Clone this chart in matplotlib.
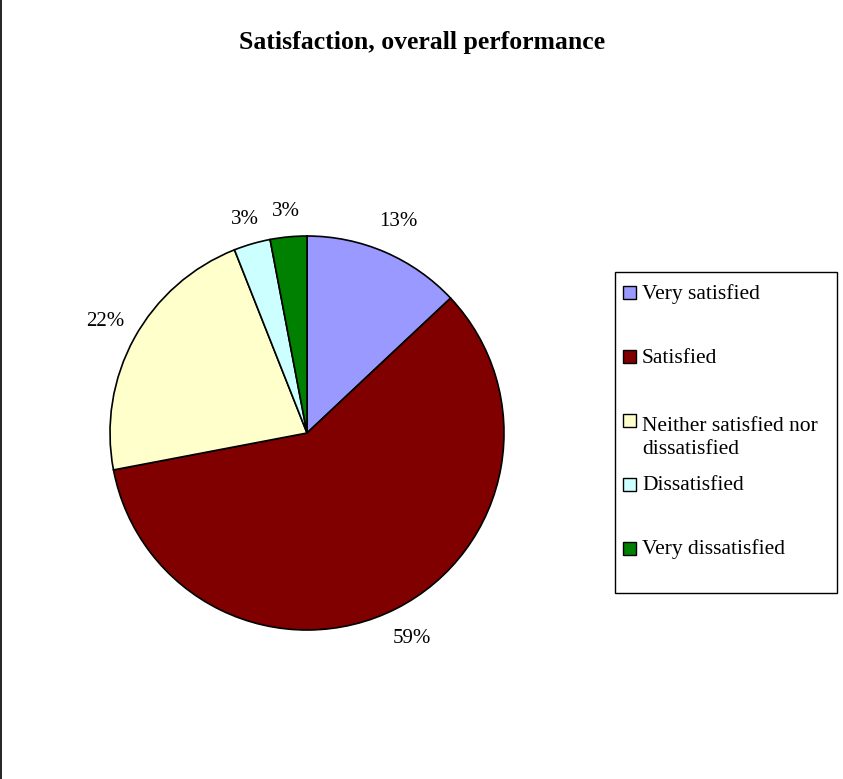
import matplotlib.pyplot as plt
from matplotlib.patches import Rectangle
from matplotlib.lines import Line2D

plt.rcParams['font.family'] = ['Liberation Serif', 'DejaVu Serif']

categories = ['Very satisfied', 'Satisfied', 'Neither satisfied nor\ndissatisfied',
              'Dissatisfied', 'Very dissatisfied']
shares = [13, 59, 22, 3, 3]
colors = ['#9999FF', '#800000', '#FFFFCC', '#CCFFFF', '#008000']

W, H = 843, 779
fig = plt.figure(figsize=(W / 100, H / 100), dpi=100)


def fx(px):
    return px / W


def fy(py):
    return 1 - py / H


# pie axes: centre (307, 433) px, radius 197 px
cx, cy, r = 307, 433, 197
ax = fig.add_axes([fx(cx - r), fy(cy + r), 2 * r / W, 2 * r / H])
wedges, texts = ax.pie(shares, colors=colors, startangle=90, counterclock=False,
                       labels=['%d%%' % v for v in shares], labeldistance=1.17,
                       wedgeprops=dict(edgecolor='black', linewidth=1.2),
                       textprops=dict(fontsize=15, ha='center', va='center'))
# pull the two thin-slice labels a little closer to the rim
for t in texts[3:]:
    x, y = t.get_position()
    t.set_position((x * 1.13 / 1.17, y * 1.13 / 1.17))
ax.set_xlim(-1, 1)
ax.set_ylim(-1, 1)
ax.axis('off')

fig.text(fx(422), fy(42), 'Satisfaction, overall performance',
         ha='center', va='center', fontsize=18.5, fontweight='bold')

# legend box drawn by hand so multi-line entries keep the key on the first line
fig.add_artist(Rectangle((fx(615), fy(593)), 222 / W, 321 / H, transform=fig.transFigure,
                         facecolor='white', edgecolor='black', linewidth=1))
row0, step, line_h = 293, 63.75, 27
for i, (label, c) in enumerate(zip(categories, colors)):
    yc = row0 + i * step
    n_lines = label.count('\n') + 1
    fig.add_artist(Rectangle((fx(623), fy(yc + 6.5)), 13 / W, 13 / H,
                             transform=fig.transFigure, facecolor=c,
                             edgecolor='black', linewidth=1))
    fig.text(fx(642), fy(yc + 6 + (n_lines - 1) * line_h), label, ha='left',
             va='baseline', fontsize=15.5, linespacing=1.25)

# left edge rule
fig.add_artist(Line2D([fx(0.6), fx(0.6)], [0, 1], color='black', linewidth=1.2,
                      transform=fig.transFigure))

fig.savefig('out.png', dpi=100)
